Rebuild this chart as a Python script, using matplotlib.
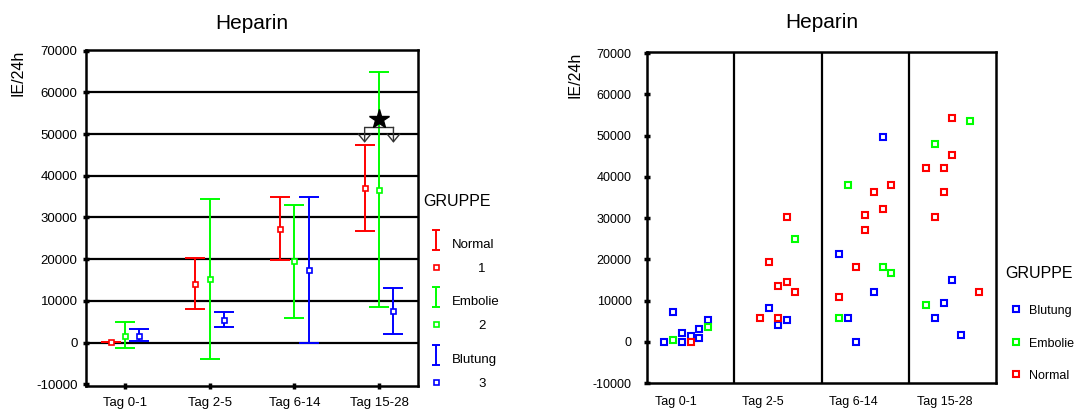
import numpy as np
import matplotlib
matplotlib.use("Agg")
import matplotlib.pyplot as plt
from matplotlib.path import Path

plt.rcParams['font.family'] = ['Liberation Sans', 'DejaVu Sans']

# ---------------- data ----------------
categories = ["Tag 0-1", "Tag 2-5", "Tag 6-14", "Tag 15-28"]
groups = ["Normal", "Embolie", "Blutung"]
group_codes = ["1", "2", "3"]
colors = {"Normal": "#ff0000", "Embolie": "#00ff00", "Blutung": "#0000ff"}

# mean and error-bar limits (IE/24h) per group and day range
mean_normal = [200, 14000, 27200, 37100]
low_normal = [200, 8000, 19900, 26800]
high_normal = [200, 20300, 34900, 47400]

mean_embolie = [1600, 15300, 19500, 36700]
low_embolie = [-1350, -4000, 6000, 8500]
high_embolie = [4900, 34500, 32900, 64800]

mean_blutung = [1600, 5400, 17400, 7600]
low_blutung = [300, 3800, 0, 2000]
high_blutung = [3300, 7300, 34900, 13200]

# individual daily doses (category index, offset within category, IE/24h)
blutung_cat = [0, 0, 0, 0, 0, 0, 0, 0, 1, 1, 1, 2, 2, 2, 2, 2, 3, 3, 3, 3]
blutung_off = [-0.3, -0.2, -0.1, -0.1, 0.0, 0.1, 0.1, 0.2,
               -0.1, 0.0, 0.1, -0.3, -0.2, -0.1, 0.1, 0.2,
               0.0, -0.1, -0.2, 0.1]
blutung_val = [0, 7200, 2200, 0, 1300, 3100, 800, 5300,
               8100, 4000, 5300, 21200, 5800, 0, 12100, 49800,
               14900, 9500, 5800, 1700]

embolie_cat = [0, 0, 1, 2, 2, 2, 2, 3, 3, 3]
embolie_off = [-0.2, 0.2, 0.2, -0.2, -0.3, 0.2, 0.3, 0.2, -0.2, -0.3]
embolie_val = [400, 3500, 24900, 38000, 5800, 18100, 16600, 53500, 48100, 9000]

normal_cat = [0, 1, 1, 1, 1, 1, 1, 1, 2, 2, 2, 2, 2, 2, 2,
              3, 3, 3, 3, 3, 3, 3]
normal_off = [0.0, -0.2, -0.1, 0.0, 0.1, 0.1, 0.2, 0.0,
              -0.3, -0.1, 0.0, 0.0, 0.1, 0.2, 0.3,
              0.0, -0.3, -0.1, 0.0, -0.1, -0.2, 0.3]
normal_val = [0, 5800, 19400, 13500, 30300, 14400, 12100, 5800,
              10800, 18100, 30800, 27100, 36300, 32200, 38000,
              54400, 42100, 42100, 45300, 36300, 30300, 12100]

star_value = 53500
bracket_value = 51600
arrow_tip_value = 47900

yticks = [-10000, 0, 10000, 20000, 30000, 40000, 50000, 60000, 70000]

# ---------------- figure ----------------
W, H = 1079, 409
fig = plt.figure(figsize=(W / 100, H / 100), dpi=100)


def px(x, y):
    return x / W, 1 - y / H


ax1 = fig.add_axes([86 / W, 1 - 386 / H, 332 / W, 336 / H])
ax2 = fig.add_axes([647 / W, 1 - 383 / H, 349 / W, 331 / H])

xpos = np.arange(len(categories))
offsets = {"Normal": -0.17, "Embolie": 0.0, "Blutung": 0.17}
stats = {
    "Normal": (mean_normal, low_normal, high_normal),
    "Embolie": (mean_embolie, low_embolie, high_embolie),
    "Blutung": (mean_blutung, low_blutung, high_blutung),
}

# ---- left panel: mean with range bars ----
for yv in range(0, 70000, 10000):
    ax1.axhline(yv, color="black", lw=1.6, zorder=1)

for g in groups:
    m, lo, hi = (np.array(a) for a in stats[g])
    x = xpos + offsets[g]
    ax1.errorbar(x, m, yerr=[m - lo, hi - m], fmt="none", ecolor=colors[g],
                 elinewidth=1.4, capsize=7, capthick=1.4, zorder=3)
    ax1.plot(x, m, ls="none", marker="s", ms=3.6, mfc="white",
             mec=colors[g], mew=1.2, zorder=4)

# significance marker between Normal and Blutung in the last range
xl = xpos[3] + offsets["Normal"]
xr = xpos[3] + offsets["Blutung"]
ax1.plot([xl, xr], [bracket_value, bracket_value], color="#333333", lw=1, zorder=5)
for xx in (xl, xr):
    ax1.annotate("", xy=(xx, arrow_tip_value), xytext=(xx, bracket_value),
                 arrowprops=dict(arrowstyle="->,head_length=0.55,head_width=0.45",
                                 color="#333333", lw=1, shrinkA=0, shrinkB=0),
                 zorder=5)
ax1.plot([xpos[3]], [star_value], marker="*", ms=15, color="black", zorder=6)

ax1.set_xlim(-0.46, 3.46)
ax1.set_ylim(-10400, 70150)
ax1.set_xticks(xpos)
ax1.set_xticklabels(categories, fontsize=9.5)
ax1.set_yticks(yticks)
ax1.set_yticklabels([str(v) for v in yticks], fontsize=9.5)
ax1.tick_params(axis="y", direction="inout", length=4, width=2.5, pad=4)
ax1.tick_params(axis="x", direction="inout", length=4, width=2.5, pad=6)
for s in ax1.spines.values():
    s.set_linewidth(1.8)
ax1.text(-0.205, 1.0, "IE/24h", transform=ax1.transAxes, rotation=90,
         ha="center", va="top", fontsize=11.5)
ax1.set_title("Heparin", fontsize=15, pad=15)

# legend for the left panel
ibar = Path([(-0.35, -1), (0.35, -1), (0, -1), (0, 1), (-0.35, 1), (0.35, 1)],
            [Path.MOVETO, Path.LINETO, Path.MOVETO, Path.LINETO,
             Path.MOVETO, Path.LINETO])
fig.text(*px(423, 201), "GRUPPE", fontsize=11.5, ha="left", va="center")
ibar_y = [240, 297, 355]
for g, code, yy in zip(groups, group_codes, ibar_y):
    fig.lines.append(plt.Line2D([px(436, yy)[0]], [px(436, yy)[1]],
                                transform=fig.transFigure, marker=ibar, ms=15,
                                mew=1.4, color=colors[g], ls="none"))
    fig.text(*px(452, yy + 5), g, fontsize=9.5, ha="left", va="center")
    fig.lines.append(plt.Line2D([px(436, yy + 27)[0]], [px(436, yy + 27)[1]],
                                transform=fig.transFigure, marker="s", ms=3.6,
                                mfc="white", mec=colors[g], mew=1.2, ls="none"))
    fig.text(*px(482, yy + 29), code, fontsize=9.5, ha="center", va="center")

# ---- right panel: individual values ----
point_sets = [
    ("Blutung", blutung_cat, blutung_off, blutung_val),
    ("Embolie", embolie_cat, embolie_off, embolie_val),
    ("Normal", normal_cat, normal_off, normal_val),
]
for g, cat, off, val in point_sets:
    x = np.array(cat) + np.array(off)
    ax2.plot(x, val, ls="none", marker="s", ms=4.2, mfc="white",
             mec=colors[g], mew=1.5, zorder=3)

for b in (0.5, 1.5, 2.5):
    ax2.axvline(b, color="black", lw=1.6, zorder=1)

ax2.set_xlim(-0.5, 3.5)
ax2.set_ylim(-10000, 70300)
ax2.set_xticks(xpos - 0.41)
ax2.set_xticklabels(categories, fontsize=9, ha="left")
ax2.tick_params(axis="x", length=0, pad=9)
ax2.set_yticks(yticks)
ax2.set_yticklabels([str(v) for v in yticks], fontsize=9)
ax2.tick_params(axis="y", direction="inout", length=4, width=2.5, pad=9)
for s in ax2.spines.values():
    s.set_linewidth(1.8)
ax2.text(-0.206, 1.0, "IE/24h", transform=ax2.transAxes, rotation=90,
         ha="center", va="top", fontsize=11.5)
ax2.set_title("Heparin", fontsize=15, pad=17)

fig.text(*px(1005, 273), "GRUPPE", fontsize=11.5, ha="left", va="center")
for g, yy in zip(["Blutung", "Embolie", "Normal"], [311, 344, 376]):
    fig.lines.append(plt.Line2D([px(1016, yy - 2)[0]], [px(1016, yy - 2)[1]],
                                transform=fig.transFigure, marker="s", ms=4.2,
                                mfc="white", mec=colors[g], mew=1.5, ls="none"))
    fig.text(*px(1029, yy), g, fontsize=9, ha="left", va="center")

fig.savefig("out.png", dpi=100)
